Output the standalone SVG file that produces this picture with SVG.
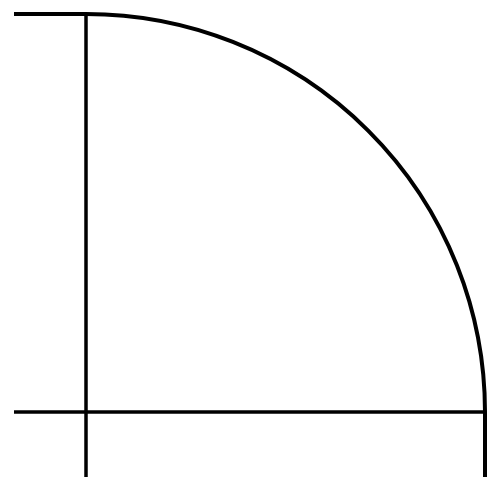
<svg xmlns="http://www.w3.org/2000/svg" width="500" height="493" viewBox="0 0 500 493">
<style>.l{stroke:#000;stroke-width:3.5;fill:none;stroke-linecap:butt}.a{stroke-width:4}</style>
<rect width="500" height="493" fill="#fff"/>
<g id="shape">
<path class="l a" d="M14,14 H86 A399,398 0 0 1 485,412 V477"/>
<path class="l" d="M86,14 V477"/>
<path class="l" d="M14,412 H485"/>
</g>
</svg>
